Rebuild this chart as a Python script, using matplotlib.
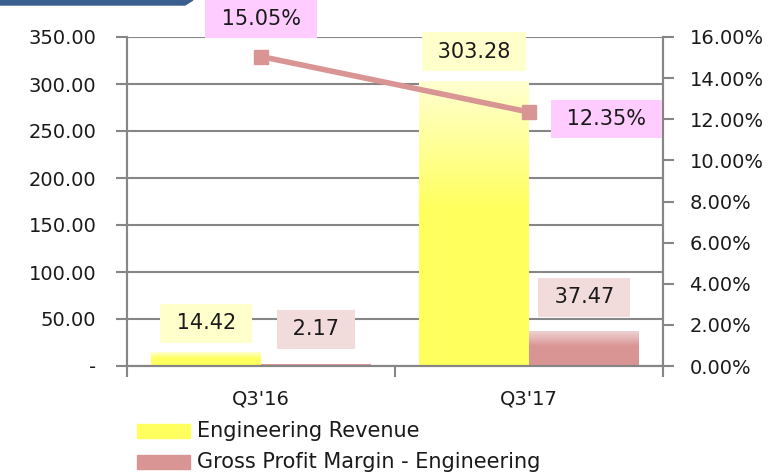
import matplotlib
matplotlib.use("Agg")
import matplotlib.pyplot as plt
import numpy as np
from matplotlib.patches import Polygon, Rectangle
from matplotlib.colors import LinearSegmentedColormap

categories = ["Q3'16", "Q3'17"]
revenue = [14.42, 303.28]
gross_profit = [2.17, 37.47]
margin = [15.05, 12.35]
left_ticks = [0, 50, 100, 150, 200, 250, 300, 350]
left_labels = ["-", "50.00", "100.00", "150.00", "200.00", "250.00", "300.00", "350.00"]
right_ticks = [0, 2, 4, 6, 8, 10, 12, 14, 16]

plt.rcParams['font.family'] = ['DejaVu Sans']
grey = "#868686"
txt = "#1a1a1a"
fig = plt.figure(figsize=(7.84, 4.76), dpi=100)
ax = fig.add_axes([127/784, 110/476, 536/784, 329/476])
ax2 = ax.twinx()

x = np.arange(len(categories))
w = 0.41

b1 = ax.bar(x - w/2, revenue, w, color="#FFFF5E", zorder=2)
b2 = ax.bar(x + w/2, gross_profit, w, color="#D99594", zorder=2)

cm_y = LinearSegmentedColormap.from_list("y", [(0, "#FFFF5E"), (0.55, "#FFFF5E"), (1, "#FFFFD2")])
cm_p = LinearSegmentedColormap.from_list("p", [(0, "#D99594"), (0.55, "#D99594"), (1, "#F0D6D6")])
grad = np.linspace(0, 1, 256).reshape(-1, 1)
for bars, cm in ((b1, cm_y), (b2, cm_p)):
    for r in bars:
        x0, y0 = r.get_x(), r.get_y()
        im = ax.imshow(grad, cmap=cm, aspect='auto', origin='lower',
                       extent=[x0, x0 + r.get_width(), y0, y0 + max(r.get_height(), 1e-6)],
                       zorder=2.1)
        im.set_clip_path(r)
ax.set_xlim(-0.5, 1.5)
ax.set_ylim(0, 350)
ax2.set_ylim(0, 16)

ax.set_yticks(left_ticks)
ax.set_yticklabels(left_labels)
ax.grid(axis='y', color=grey, linewidth=1.5, zorder=0)
ax.set_axisbelow(True)
ax.spines["top"].set_visible(False)
ax2.spines["top"].set_visible(False)
for s in ["left", "right", "bottom"]:
    for a in (ax, ax2):
        a.spines[s].set_color(grey)
        a.spines[s].set_linewidth(1.5)

ax.set_xticks(x)
ax.set_xticklabels(categories)
ax.set_xticks([-0.5, 0.5, 1.5], minor=True)
ax.tick_params(axis='x', which='major', length=0, pad=17, labelsize=14, colors=txt)
ax.tick_params(axis='x', which='minor', length=8, width=1.5, color=grey)
ax.tick_params(axis='y', length=8, width=1.5, color=grey, labelsize=14, labelcolor=txt, pad=14)

ax2.set_yticks(right_ticks)
ax2.set_yticklabels([f"{v:.2f}%" for v in right_ticks])
ax2.tick_params(axis='y', length=8, width=1.5, color=grey, labelsize=14, labelcolor=txt, pad=11)

ax2.plot(x, margin, color="#D99594", linewidth=4, marker='s', markersize=10, zorder=5)
ax2.set_zorder(ax.get_zorder() + 1)
ax2.patch.set_visible(False)

lab_fs = 15

def lab(a, text, xy, off, fc):
    a.annotate(" " + text + " ", xy, xytext=off, textcoords='offset points',
               ha='center', va='center', fontsize=lab_fs, color=txt,
               bbox=dict(boxstyle='square,pad=0.45', fc=fc, ec='none'), zorder=7,
               annotation_clip=False)

lab(ax, f"{revenue[0]:.2f}", (x[0] - w/2, revenue[0]), (0, 21), "#FFFFCC")
lab(ax, f"{revenue[1]:.2f}", (x[1] - w/2, revenue[1]), (0, 21), "#FFFFCC")
lab(ax, f"{gross_profit[0]:.2f}", (x[0] + w/2, gross_profit[0]), (0, 25), "#F2DCDB")
lab(ax, f"{gross_profit[1]:.2f}", (x[1] + w/2, gross_profit[1]), (0, 24), "#F2DCDB")
lab(ax2, f"{margin[0]:.2f}%", (x[0], margin[0]), (0, 27), "#FFCCFF")
lab(ax2, f"{margin[1]:.2f}%", (x[1], margin[1]), (56, -5), "#FFCCFF")

# legend
lx0, lw, lh = 137/784, 53/784, 14/476
for i, (name, c) in enumerate([("Engineering Revenue", "#FFFF5E"),
                               ("Gross Profit Margin - Engineering", "#D99594")]):
    ycen = (476 - (431 + 31*i)) / 476
    fig.patches.append(Rectangle((lx0, ycen - lh/2), lw, lh, transform=fig.transFigure, color=c))
    fig.text(197/784, ycen, name, fontsize=15, va='center', ha='left', color=txt)

# decorative top band
fig.patches.append(Polygon([[0, 1], [193/784, 1], [185/784, 1 - 5/476], [0, 1 - 5/476]],
                           closed=True, transform=fig.transFigure, color="#3A5F8F"))

fig.savefig("out.png", dpi=100)
